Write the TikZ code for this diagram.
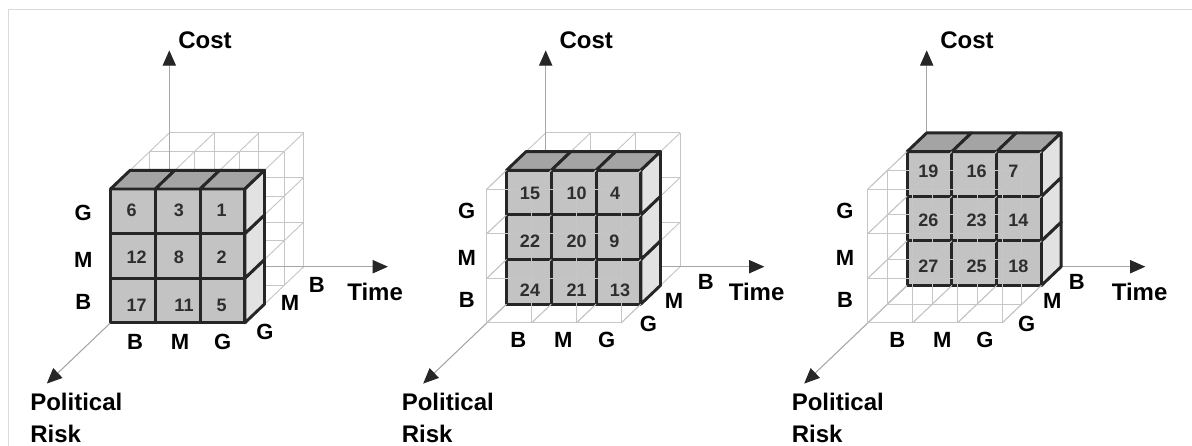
\documentclass[tikz,border=0pt]{standalone}
\usepackage{fontspec}
\setmainfont{Liberation Sans}
\usetikzlibrary{arrows.meta}
\definecolor{gridc}{HTML}{C6C6C6}
\definecolor{axisc}{HTML}{A6A6A6}
\definecolor{frontc}{HTML}{C3C3C3}
\definecolor{topc}{HTML}{A4A4A4}
\definecolor{sidec}{HTML}{E2E2E2}
\definecolor{edgec}{HTML}{262626}
\definecolor{numc}{HTML}{2E2E2E}
\definecolor{framec}{HTML}{DADADA}
\newcommand\cubegrid{%
  \foreach \a in {0,...,3}{\foreach \b in {0,...,3}{%
    \draw[gridline] (0,\a,\b) -- (3,\a,\b);
    \draw[gridline] (\a,0,\b) -- (\a,3,\b);
    \draw[gridline] (\a,\b,0) -- (\a,\b,3);}}}
\newcommand\cubeaxes[1]{%
  \coordinate (#1o) at (0,0,0);
  \coordinate (#1c) at (0,4.85,0);
  \coordinate (#1t) at (4.88,0,0);
  \coordinate (#1p) at (0,0,6.25);
  \draw[axisline] (#1o) -- (#1c);
  \draw[axisline] (#1o) -- (#1t);
  \draw[axisline] (#1o) -- (#1p);}
\newcommand\cubeblocks[2]{%
  \foreach \i in {0,1,2}{\foreach \j in {0,1,2}{%
    \filldraw[frontface] (\i,\j,#2) -- (\i+1,\j,#2) -- (\i+1,\j+1,#2) -- (\i,\j+1,#2) -- cycle;}}
  \foreach \i in {0,1,2}{%
    \filldraw[topface] (\i,3,#2) -- (\i+1,3,#2) -- (\i+1,3,#1) -- (\i,3,#1) -- cycle;}
  \foreach \j in {0,1,2}{%
    \filldraw[sideface] (3,\j,#2) -- (3,\j,#1) -- (3,\j+1,#1) -- (3,\j+1,#2) -- cycle;}}
\newcommand\cubefront[2]{%
  \foreach \a in {0,...,3}{\foreach \b in {0,...,3}{%
    \draw[gridline] (\a,\b,#1) -- (\a,\b,3);}}
  \foreach \k in {#2}{\foreach \a in {0,...,3}{%
    \draw[gridline] (0,\a,\k) -- (3,\a,\k);
    \draw[gridline] (\a,0,\k) -- (\a,3,\k);}}}
\begin{document}
\begin{tikzpicture}[x=0.75pt,y=-0.75pt,
  gridline/.style={draw=gridc, line width=0.7pt},
  axisline/.style={draw=axisc, line width=0.8pt, -{Triangle[length=11.5pt,width=10pt,color=edgec]}},
  blockface/.style={draw=edgec, line width=2.2pt, line join=round},
  frontface/.style={blockface, fill=frontc},
  topface/.style={blockface, fill=topc},
  sideface/.style={blockface, fill=sidec},
  cubeframe/.style={shift={#1}, x={(33.6pt,0pt)}, y={(0pt,33.45pt)}, z={(-14.7pt,-14.025pt)}},
  numlbl/.style={font=\fontsize{13.5}{16}\selectfont\bfseries, text=numc, inner sep=0pt},
  lvl/.style={font=\fontsize{16.5}{20}\selectfont\bfseries, inner sep=0pt},
  axlbl/.style={font=\fontsize{18}{22}\selectfont\bfseries, inner sep=0pt}]
\useasboundingbox (0,0) rectangle (1192,446);
\draw[draw=framec, line width=0.75pt] (1192,9) -- (8,9) -- (8,446);

% ---------- cube 1 ----------
\begin{scope}[cubeframe={(169.3,266.7)}]
  \cubegrid
  \cubeaxes{a}
  \cubeblocks{2}{3}
\end{scope}
\node[axlbl, anchor=base] (a-cost) at (205,48.3) {Cost};
\node[axlbl, anchor=base west] (a-time) at (347,300) {Time};
\node[axlbl, anchor=base west] (a-pol) at (30,410) {Political};
\node[axlbl, anchor=base west] (a-risk) at (30,442) {Risk};
\node[lvl] (a-cg) at (83.3,213.3) {G};
\node[lvl] (a-cm) at (83.3,260) {M};
\node[lvl] (a-cb) at (83.3,302.3) {B};
\node[lvl] (a-tb) at (135,342.3) {B};
\node[lvl] (a-tm) at (180,342.3) {M};
\node[lvl] (a-tg) at (222.7,342.3) {G};
\node[lvl] (a-pg) at (265,331.7) {G};
\node[lvl] (a-pm) at (290,302.7) {M};
\node[lvl] (a-pb) at (316.7,285) {B};
\node[numlbl] (n6) at (131.7,210) {6};
\node[numlbl] (n3) at (179,210) {3};
\node[numlbl] (n1) at (221.7,210) {1};
\node[numlbl] (n12) at (136.7,257) {12};
\node[numlbl] (n8) at (179,257) {8};
\node[numlbl] (n2) at (221.7,257) {2};
\node[numlbl] (n17) at (136.7,305) {17};
\node[numlbl] (n11) at (184,305) {11};
\node[numlbl] (n5) at (221.7,305) {5};

% ---------- cube 2 ----------
\begin{scope}[cubeframe={(545.7,266.7)}]
  \cubegrid
  \cubeaxes{b}
  \cubeblocks{1}{2}
  \cubefront{2}{3}
\end{scope}
\node[axlbl, anchor=base] (b-cost) at (586.3,48.3) {Cost};
\node[axlbl, anchor=base west] (b-time) at (728.5,300) {Time};
\node[axlbl, anchor=base west] (b-pol) at (401.5,410) {Political};
\node[axlbl, anchor=base west] (b-risk) at (401.5,442) {Risk};
\node[lvl] (b-cg) at (466.7,210.7) {G};
\node[lvl] (b-cm) at (466.7,258.3) {M};
\node[lvl] (b-cb) at (466.7,300) {B};
\node[lvl] (b-tb) at (518.3,340) {B};
\node[lvl] (b-tm) at (563.3,340) {M};
\node[lvl] (b-tg) at (606.7,340) {G};
\node[lvl] (b-pg) at (648.3,324) {G};
\node[lvl] (b-pm) at (674,301) {M};
\node[lvl] (b-pb) at (705.7,281.7) {B};
\node[numlbl] (n15) at (530,193.3) {15};
\node[numlbl] (n10) at (576.7,193.3) {10};
\node[numlbl] (n4) at (615,193.3) {4};
\node[numlbl] (n22) at (530,241.7) {22};
\node[numlbl] (n20) at (576.7,241.7) {20};
\node[numlbl] (n9) at (614.3,241.7) {9};
\node[numlbl] (n24) at (530,290) {24};
\node[numlbl] (n21) at (576.7,290) {21};
\node[numlbl] (n13) at (620,290) {13};

% ---------- cube 3 ----------
\begin{scope}[cubeframe={(926.7,266.7)}]
  \cubegrid
  \cubeaxes{c}
  \cubeblocks{0}{1}
  \cubefront{1}{2,3}
\end{scope}
\node[axlbl, anchor=base] (c-cost) at (967,48.3) {Cost};
\node[axlbl, anchor=base west] (c-time) at (1111.5,300) {Time};
\node[axlbl, anchor=base west] (c-pol) at (791.5,410) {Political};
\node[axlbl, anchor=base west] (c-risk) at (791.5,442) {Risk};
\node[lvl] (c-cg) at (845,210.7) {G};
\node[lvl] (c-cm) at (845,258.3) {M};
\node[lvl] (c-cb) at (845,300) {B};
\node[lvl] (c-tb) at (897.3,340) {B};
\node[lvl] (c-tm) at (942.3,340) {M};
\node[lvl] (c-tg) at (985,340) {G};
\node[lvl] (c-pg) at (1026.7,324) {G};
\node[lvl] (c-pm) at (1052.3,301) {M};
\node[lvl] (c-pb) at (1076.7,281.7) {B};
\node[numlbl] (n19) at (928.3,171.7) {19};
\node[numlbl] (n16) at (976.7,171.7) {16};
\node[numlbl] (n7) at (1013.3,171.7) {7};
\node[numlbl] (n26) at (928.3,220) {26};
\node[numlbl] (n23) at (976.7,220) {23};
\node[numlbl] (n14) at (1018.3,220) {14};
\node[numlbl] (n27) at (928.3,266.7) {27};
\node[numlbl] (n25) at (976.7,266.7) {25};
\node[numlbl] (n18) at (1018.3,266.7) {18};
\end{tikzpicture}
\end{document}
